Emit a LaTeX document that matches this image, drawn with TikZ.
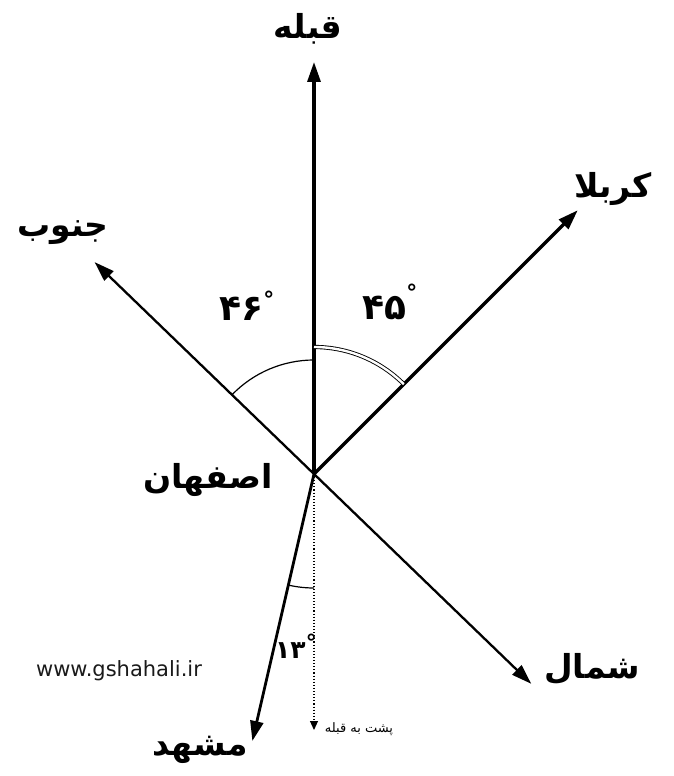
\documentclass[tikz,border=0pt]{standalone}
\usepackage{fontspec}
\usepackage{xcolor}
\usetikzlibrary{arrows.meta}
\TeXXeTstate=1
\newfontfamily\farsi[Script=Arabic]{DejaVu Sans}
\setsansfont{DejaVu Sans}
\definecolor{inkMain}{HTML}{000000}
\definecolor{inkMuted}{HTML}{1A1A1A}
\newcommand{\degmark}[1]{\raisebox{#1}{\fontsize{22}{22}\selectfont\bfseries °}}

\begin{document}
\begin{tikzpicture}[x=1pt, y=1pt,
    dirArrow/.style={draw=inkMain, -{Triangle[length=20pt, width=13pt]}},
    angleArc/.style={draw=inkMain, line width=1.2pt},
    placeLbl/.style={font=\farsi\bfseries\fontsize{33}{33}\selectfont, text=inkMain},
    degLbl/.style={font=\farsi\bfseries\fontsize{36}{36}\selectfont, text=inkMain}]
  \useasboundingbox (-314,-302) rectangle (360,474);
  \coordinate (O) at (0,0);
  % direction arrows out of the city
  \foreach \name/\ang/\len/\lw in
    {qibla/90/412/3.2, karbala/45/373/3.2, jonub/136/305/2.3, shomal/-44/302/2.3, mashhad/257/274/2.8}{
    \coordinate (\name) at (\ang:\len);
    \draw[dirArrow, line width=\lw pt] (O) -- (\name);
  }
  % back to qibla, dotted
  \coordinate (posht) at (270:256);
  \draw[draw=inkMain, line width=1.1pt, dotted, -{Triangle[length=9pt, width=8pt]}] (O) -- (posht);
  % angle arcs
  \draw[angleArc] (O) ++(90:114) arc[start angle=90, end angle=136, radius=114];
  \draw[draw=inkMain, line width=0.9pt, double, double distance=2.4pt]
    (O) ++(45:127) arc[start angle=45, end angle=90, radius=127];
  \draw[angleArc] (O) ++(257:114) arc[start angle=257, end angle=270, radius=114];
  % labels
  \node[placeLbl] (qiblaLbl)   at (-6,445)    {\beginR قبله\endR};
  \node[placeLbl] (karbalaLbl) at (299,285)   {\beginR کربلا\endR};
  \node[placeLbl] (jonubLbl)   at (-251,241)  {\beginR جنوب\endR};
  \node[placeLbl] (esfahanLbl) at (-106,-6)   {\beginR اصفهان\endR};
  \node[placeLbl] (shomalLbl)  at (278,-195)  {\beginR شمال\endR};
  \node[placeLbl] (mashhadLbl) at (-114,-276) {\beginR مشهد\endR};
  \node[font=\farsi\fontsize{13}{13}\selectfont, text=inkMain] (poshtLbl) at (45,-255) {\beginR پشت به قبله\endR};
  \node[font=\sffamily\fontsize{21}{21}\selectfont, text=inkMuted] (siteLbl) at (-195,-197) {www.gshahali.ir};
  % angle values
  \node[degLbl] (ang46) at (-67,168) {۴۶\degmark{13pt}};
  \node[degLbl] (ang45) at (76,172) {۴۵\degmark{19pt}};
  \node[degLbl, font=\farsi\bfseries\fontsize{25}{25}\selectfont] (ang13) at (-18,-172) {۱۳\degmark{8pt}};
\end{tikzpicture}
\end{document}
